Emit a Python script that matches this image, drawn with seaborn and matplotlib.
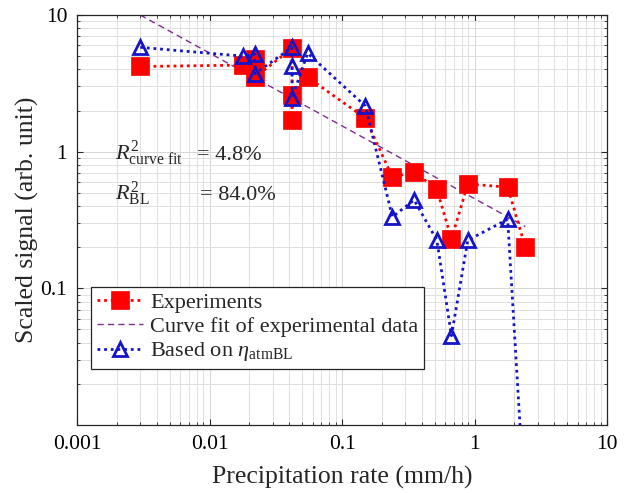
import numpy as np
import pandas as pd
import matplotlib
matplotlib.use("Agg")
import matplotlib.pyplot as plt
import seaborn as sns
from matplotlib.ticker import FixedLocator, LogLocator, NullFormatter

# ---- data ----
rate = [0.003, 0.018, 0.022, 0.022, 0.042, 0.042, 0.042, 0.055,
        0.15, 0.24, 0.35, 0.52, 0.67, 0.89, 1.78, 2.42]
experiments = [4.2, 4.3, 4.8, 3.5, 5.7, 1.7, 2.6, 3.5,
               1.76, 0.65, 0.71, 0.53, 0.23, 0.58, 0.55, 0.20]
based_on_bl = [5.8, 5.0, 5.16, 3.72, 5.8, 4.24, 2.48, 5.25,
               2.16, 0.333, 0.443, 0.225, 0.045, 0.225, 0.32, 0.0022]
fit_x = [0.003, 2.42]
fit_y = [10.0, 0.283]

x_ticks = [0.001, 0.01, 0.1, 1, 10]
x_ticklabels = ["0.001", "0.01", "0.1", "1", "10"]
y_ticks = [0.1, 1, 10]
y_ticklabels = ["0.1", "1", "10"]

labels = ["Experiments", "Curve fit of experimental data",
          r"Based on $\eta_{\mathrm{atmBL}}$"]
r2_lines = [r"$R^2_{\mathrm{curve\ fit}}$", r"$R^2_{\mathrm{BL}}$"]
r2_values = ["= 4.8%", "= 84.0%"]

# ---- style ----
sns.set_theme(style="white")
plt.rcParams["font.family"] = ["Liberation Serif", "DejaVu Serif"]
plt.rcParams["mathtext.fontset"] = "custom"
plt.rcParams["mathtext.rm"] = "Liberation Serif"
plt.rcParams["mathtext.it"] = "Liberation Serif:italic"
plt.rcParams["mathtext.bf"] = "Liberation Serif:bold"

RED = "#ff0000"
BLUE = "#1414c8"
PURPLE = "#7e2f8e"

fig = plt.figure(figsize=(6.26, 4.93), dpi=100)
ax = fig.add_axes([77 / 626, 1 - 425 / 493, 530 / 626, 410 / 493])

df_exp = pd.DataFrame({"x": rate, "y": experiments})
df_bl = pd.DataFrame({"x": rate, "y": based_on_bl})
df_fit = pd.DataFrame({"x": fit_x, "y": fit_y})

sns.lineplot(data=df_exp, x="x", y="y", ax=ax, sort=False, estimator=None,
             color=RED, lw=2.0, linestyle=(0, (1, 1.4)),
             marker="s", markersize=12.5, markerfacecolor=RED,
             markeredgecolor=RED, markeredgewidth=0.5,
             label=labels[0], zorder=3)
sns.lineplot(data=df_fit, x="x", y="y", ax=ax, sort=False, estimator=None,
             color=PURPLE, lw=1.0, linestyle=(0, (4.5, 3)),
             label=labels[1], zorder=2)
sns.lineplot(data=df_bl, x="x", y="y", ax=ax, sort=False, estimator=None,
             color=BLUE, lw=2.0, linestyle=(0, (1, 1.4)),
             marker="^", markersize=10, markerfacecolor="none",
             markeredgecolor=BLUE, markeredgewidth=2.0,
             label=labels[2], zorder=4)

ax.set_xscale("log")
ax.set_yscale("log")
ax.set_xlim(0.001, 10)
ax.set_ylim(0.01, 10)

ax.xaxis.set_major_locator(FixedLocator(x_ticks))
ax.set_xticklabels(x_ticklabels)
ax.yaxis.set_major_locator(FixedLocator(y_ticks))
ax.set_yticklabels(y_ticklabels)
ax.xaxis.set_minor_locator(LogLocator(base=10, subs=np.arange(2, 10)))
ax.yaxis.set_minor_locator(LogLocator(base=10, subs=np.arange(2, 10)))
ax.xaxis.set_minor_formatter(NullFormatter())
ax.yaxis.set_minor_formatter(NullFormatter())

ax.grid(True, which="major", color="#d6d6d6", lw=0.7)
ax.grid(True, which="minor", color="#e0e0e0", lw=0.7)
ax.set_axisbelow(True)

ax.tick_params(which="both", direction="in", top=True, right=True,
               bottom=True, left=True, colors="#262626", labelcolor="black")
ax.tick_params(which="major", length=4.5, width=0.8, labelsize=15.5, pad=7)
ax.tick_params(which="minor", length=2.5, width=0.6)
for s in ax.spines.values():
    s.set_color("#262626")
    s.set_linewidth(0.9)

ax.set_xlabel("Precipitation rate (mm/h)", fontsize=18.5, labelpad=9)
ax.set_ylabel("Scaled signal (arb. unit)", fontsize=18.5, labelpad=1)

# R^2 annotations
ax.text(0.0717, 0.646, r2_lines[0], transform=ax.transAxes, fontsize=16,
        va="baseline", ha="left")
ax.text(0.226, 0.646, r2_values[0], transform=ax.transAxes, fontsize=16,
        va="baseline", ha="left")
ax.text(0.0717, 0.549, r2_lines[1], transform=ax.transAxes, fontsize=16,
        va="baseline", ha="left")
ax.text(0.232, 0.549, r2_values[1], transform=ax.transAxes, fontsize=16,
        va="baseline", ha="left")

handles, labs = ax.get_legend_handles_labels()
leg = ax.legend(handles, labs, loc="upper left",
                bbox_to_anchor=(0.0264, 0.3366), borderaxespad=0,
                fontsize=16, frameon=True, fancybox=False, framealpha=1,
                edgecolor="#262626", handlelength=2.1, handletextpad=0.3,
                borderpad=0.25, labelspacing=0.15, numpoints=1)
leg.get_frame().set_linewidth(0.9)

fig.savefig("out.png", dpi=100)
